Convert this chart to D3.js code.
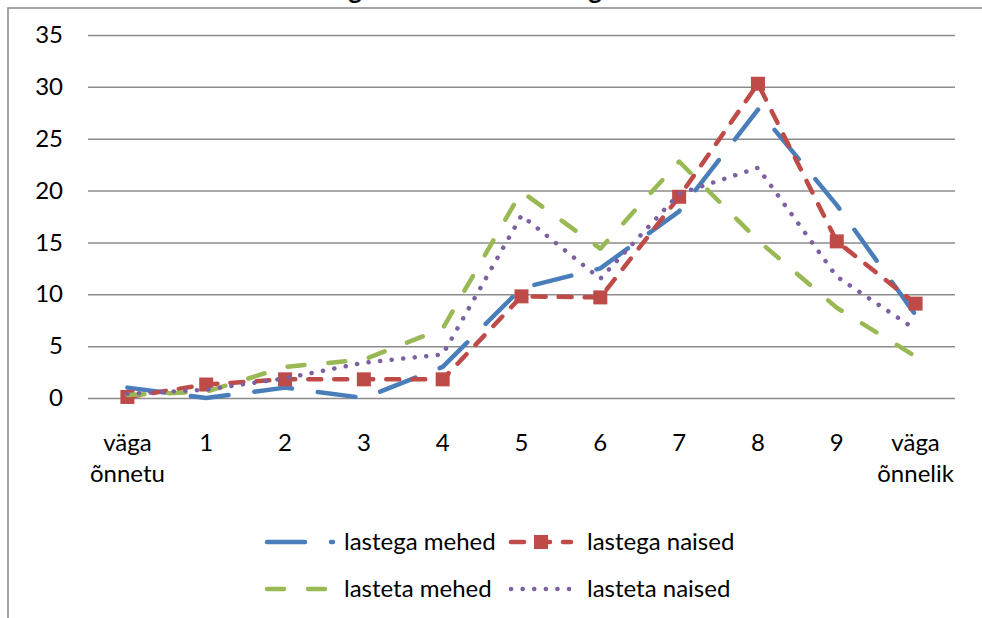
<!DOCTYPE html>
<html lang="et">
<head>
<meta charset="UTF-8">
<title>Õnnelikkus lastega ja lasteta</title>
<script src="https://d3js.org/d3.v7.min.js"></script>
<style>
  html, body { margin: 0; padding: 0; background: #fff; }
  svg { display: block; font-family: Lato, "Open Sans", sans-serif; }
</style>
</head>
<body>
<svg width="982" height="618"></svg>
<script>
// andmed (loetud pildilt)
const categories = ["väga õnnetu", "1", "2", "3", "4", "5", "6", "7", "8", "9", "väga õnnelik"];
const yTicks = [0, 5, 10, 15, 20, 25, 30, 35];
const lastegaMehed  = [1.0, 0, 1.0, 0, 3.0, 10.6, 12.5, 18.0, 27.8, 18.6, 8.0];
const lastegaNaised = [0.1, 1.3, 1.8, 1.8, 1.8, 9.8, 9.7, 19.4, 30.3, 15.1, 9.1];
const lastetaMehed  = [0.3, 0.6, 3.0, 3.7, 6.7, 19.9, 14.4, 22.8, 15.2, 8.7, 4.0];
const lastetaNaised = [0.4, 0.8, 1.9, 3.4, 4.2, 17.6, 11.5, 19.7, 22.2, 11.7, 6.6];

const series = [
  { name: "lastega mehed",  values: lastegaMehed,  color: "#4a7ebb", dash: "38,26" },
  { name: "lastega naised", values: lastegaNaised, color: "#be4b48", dash: "13,13", marker: true },
  { name: "lasteta mehed",  values: lastetaMehed,  color: "#98b954", dash: "17,24" },
  { name: "lasteta naised", values: lastetaNaised, color: "#7d60a0", dash: "0.1,11.5" }
];

const svg = d3.select("svg");
const fontSize = 24;
const lineW = 4.5;

// raam
svg.append("rect")
  .attr("x", 8).attr("y", 8)
  .attr("width", 1000).attr("height", 700)
  .attr("fill", "none")
  .attr("stroke", "#868686")
  .attr("stroke-width", 1.5);

// pealkiri (jääb suures osas pildi ülaservast välja, nagu originaalis)
const title = svg.append("text")
  .attr("x", 0).attr("y", -1)
  .attr("font-size", 26)
  .attr("font-weight", "bold")
  .text("Hinnang õnnelikkusele lastega või lasteta");
// esimese "g" keskkoht ~ x=355
const gPos = title.node().getStartPositionOfChar(6).x;
const gW = title.node().getExtentOfChar(6).width;
title.attr("x", 355 - gPos - gW / 2);

const x = d3.scaleBand().domain(categories).range([88, 955]);
const y = d3.scaleLinear().domain([0, 35]).range([398, 35]);
const cx = d => x(d) + x.bandwidth() / 2;

// ruudustik + y-telg
const yAxis = svg.append("g")
  .attr("transform", "translate(88,0)")
  .call(d3.axisLeft(y).tickValues(yTicks).tickSize(-867).tickPadding(25));
yAxis.select(".domain").remove();
yAxis.selectAll(".tick line").attr("stroke", "#8c8c8c").attr("stroke-width", 1.5);
yAxis.selectAll(".tick text")
  .attr("font-size", fontSize)
  .attr("font-family", "Lato, sans-serif")
  .attr("fill", "#000");

// x-telje sildid
const xLab = svg.append("g");
categories.forEach(c => {
  const t = xLab.append("text")
    .attr("x", cx(c)).attr("y", 451)
    .attr("text-anchor", "middle")
    .attr("font-size", fontSize)
    .attr("fill", "#000");
  c.split(" ").forEach((w, i) => {
    t.append("tspan").attr("x", cx(c)).attr("dy", i === 0 ? 0 : 31).text(w);
  });
});

// jooned
const line = d3.line()
  .x((d, i) => cx(categories[i]))
  .y(d => y(d));

series.forEach(s => {
  svg.append("path")
    .datum(s.values)
    .attr("d", line)
    .attr("fill", "none")
    .attr("stroke", s.color)
    .attr("stroke-width", lineW)
    .attr("stroke-linecap", "round")
    .attr("stroke-linejoin", "round")
    .attr("stroke-dasharray", s.dash);
  if (s.marker) {
    svg.append("g").selectAll("rect")
      .data(s.values)
      .join("rect")
      .attr("x", (d, i) => cx(categories[i]) - 7)
      .attr("y", d => y(d) - 7)
      .attr("width", 14).attr("height", 14)
      .attr("fill", s.color);
  }
});

// legend
const legPos = [
  { x: 265, y: 542 }, { x: 509, y: 542 },
  { x: 265, y: 589 }, { x: 509, y: 589 }
];
series.forEach((s, i) => {
  const p = legPos[i];
  const g = svg.append("g").attr("transform", `translate(${p.x},${p.y})`);
  g.append("line")
    .attr("x1", 2).attr("x2", i % 2 === 0 ? 68 : 62)
    .attr("stroke", s.color)
    .attr("stroke-width", lineW)
    .attr("stroke-linecap", "round")
    .attr("stroke-dasharray", s.dash);
  if (s.marker) {
    g.append("rect")
      .attr("x", 32 - 7).attr("y", -7)
      .attr("width", 14).attr("height", 14)
      .attr("fill", s.color);
  }
  g.append("text")
    .attr("x", i % 2 === 0 ? 79 : 78).attr("y", 8)
    .attr("font-size", fontSize)
    .attr("fill", "#000")
    .text(s.name);
});
</script>
</body>
</html>
